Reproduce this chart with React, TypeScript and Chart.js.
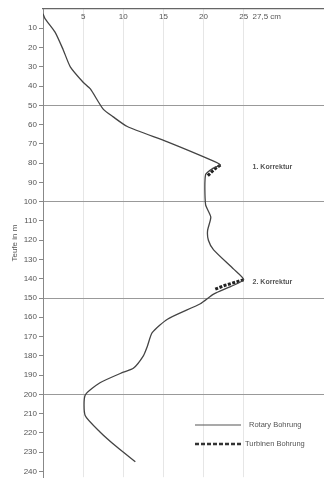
import React, { useEffect, useRef } from "react";
import { Chart, registerables } from "chart.js";

Chart.register(...registerables);

// Rotary drilling: hole width (cm) vs depth (m)
const rotaryDepth = [2.5, 5, 12, 21, 30, 38, 41.5, 52, 56, 61, 69, 79, 81, 82.5, 86, 101.5, 108, 115, 120, 125, 135, 140.5, 144, 148, 153, 161, 168, 175, 180, 186.5, 188.5, 194, 200.5, 211, 219.5, 227.5, 235];
const rotaryWidth = [0, 0.25, 1.5, 2.5, 3.4, 5.0, 5.9, 7.5, 8.75, 10.5, 15.5, 21.25, 22.1, 21.25, 20.25, 20.25, 20.9, 20.5, 20.6, 21.25, 23.75, 25, 23.4, 21.25, 19.6, 15.5, 13.6, 13, 12.5, 11.25, 10, 7.1, 5.25, 5.25, 7.1, 9.25, 11.5];

// Turbine drilling segments (null = gap)
const turbinenDepth: (number | null)[] = [81, 83, 87, null, 140.5, 143.5, 145.5];
const turbinenWidth: (number | null)[] = [22.1, 21.4, 20.4, null, 25, 22.6, 21.4];

const xTickValues = [5, 10, 15, 20, 25];
const xUnitTick = { value: 27.5, label: "27,5 cm" };
const corrections = [
  { label: "1. Korrektur", depth: 82, width: 26.1 },
  { label: "2. Korrektur", depth: 141.5, width: 26.1 },
];
const legendLabels = ["Rotary Bohrung", "Turbinen Bohrung"];

const FONT = "'Liberation Sans', Arial, sans-serif";
const TEXT = "#555";

export default function App() {
  const ref = useRef<HTMLCanvasElement>(null);

  useEffect(() => {
    if (!ref.current) return;
    const rotary = rotaryDepth.map((d, i) => ({ x: rotaryWidth[i], y: d }));
    const turb = turbinenDepth.map((d, i) =>
      d === null ? { x: NaN, y: NaN } : { x: turbinenWidth[i] as number, y: d }
    );

    const overlay = {
      id: "overlay",
      afterDraw(chart: any) {
        const { ctx, chartArea } = chart;
        const xs = chart.scales.x;
        const ys = chart.scales.y;
        ctx.save();
        ctx.fillStyle = TEXT;
        ctx.font = `8px ${FONT}`;
        ctx.textBaseline = "middle";
        ctx.textAlign = "center";
        const ly = chartArea.top + 8;
        xTickValues.forEach((v) => {
          ctx.fillText(String(v), xs.getPixelForValue(v), ly);
        });
        ctx.fillText(xUnitTick.label, xs.getPixelForValue(xUnitTick.value) + 3, ly);

        // annotations
        ctx.textAlign = "left";
        ctx.font = `bold 7px ${FONT}`;
        corrections.forEach((c) => {
          ctx.fillText(c.label, xs.getPixelForValue(c.width), ys.getPixelForValue(c.depth));
        });

        // legend
        const lx0 = chartArea.left + 152;
        const lx1 = lx0 + 46;
        const y1 = chartArea.top + 416;
        const y2 = y1 + 19;
        ctx.strokeStyle = "#555";
        ctx.lineWidth = 1.2;
        ctx.setLineDash([]);
        ctx.beginPath();
        ctx.moveTo(lx0, y1);
        ctx.lineTo(lx1, y1);
        ctx.stroke();
        ctx.strokeStyle = "#333";
        ctx.lineWidth = 2.5;
        ctx.setLineDash([4, 2]);
        ctx.beginPath();
        ctx.moveTo(lx0, y2);
        ctx.lineTo(lx1, y2);
        ctx.stroke();
        ctx.setLineDash([]);
        ctx.font = `7.5px ${FONT}`;
        ctx.fillText(legendLabels[0], lx1 + 8, y1);
        ctx.fillText(legendLabels[1], lx1 + 4, y2);
        ctx.restore();
      },
    };

    const chart = new Chart(ref.current, {
      type: "line",
      data: {
        datasets: [
          {
            label: legendLabels[0],
            data: rotary,
            borderColor: "#444",
            borderWidth: 1.3,
            pointRadius: 0,
            tension: 0.2,
            fill: false,
          },
          {
            label: legendLabels[1],
            data: turb,
            borderColor: "#222",
            borderWidth: 3,
            borderDash: [3, 1.5],
            pointRadius: 0,
            spanGaps: false,
            fill: false,
          },
        ],
      },
      options: {
        animation: false,
        responsive: true,
        maintainAspectRatio: false,
        layout: { padding: { top: 9, right: 0, bottom: 0, left: 0 } },
        plugins: { legend: { display: false }, tooltip: { enabled: false } },
        scales: {
          x: {
            type: "linear",
            position: "top",
            min: 0,
            max: 35,
            ticks: { display: false, stepSize: 5 },
            grid: {
              drawTicks: false,
              color: (c: any) =>
                c.tick && c.tick.value > 0 && c.tick.value <= 25 ? "#e6e6e6" : "rgba(0,0,0,0)",
            },
            border: { display: true, color: "#666", width: 1.2 },
          },
          y: {
            type: "linear",
            reverse: true,
            min: 0,
            max: 243,
            afterBuildTicks: (s: any) => {
              s.ticks = [];
              for (let v = 10; v <= 240; v += 10) s.ticks.push({ value: v });
            },
            afterFit: (s: any) => {
              s.width = 43;
            },
            ticks: {
              color: TEXT,
              font: { family: FONT, size: 8 },
              padding: 2,
              autoSkip: false,
            },
            grid: {
              drawTicks: true,
              tickLength: 4,
              tickColor: "#888",
              color: (c: any) =>
                c.tick && c.tick.value > 0 && c.tick.value % 50 === 0 ? "#999" : "rgba(0,0,0,0)",
            },
            border: { display: true, color: "#888", width: 1 },
            title: {
              display: true,
              text: "Teufe in m",
              color: TEXT,
              font: { family: FONT, size: 8 },
              padding: { top: 10, bottom: 0 },
            },
          },
        },
      },
      plugins: [overlay],
    } as any);
    return () => chart.destroy();
  }, []);

  return (
    <div style={{ position: "absolute", left: 0, top: 0, width: 324, height: 484, background: "#fff" }}>
      <canvas ref={ref} />
    </div>
  );
}
